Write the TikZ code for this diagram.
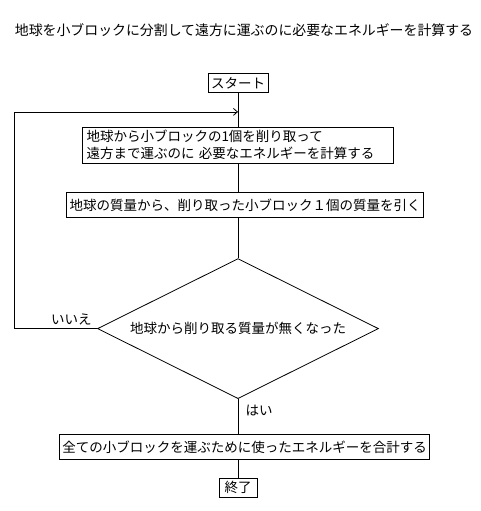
\documentclass[tikz,border=0pt]{standalone}
\usepackage{fontspec}
\setmainfont{Noto Sans CJK JP}
\usetikzlibrary{arrows.meta, positioning, shapes.geometric}

\begin{document}
\begin{tikzpicture}[
    x=1pt, y=1pt,
    font=\fontsize{13.5}{17}\selectfont,
    >={Straight Barb[length=4pt, width=7pt]},
    line width=0.8pt,
    box/.style={rectangle, draw, minimum height=25pt, inner xsep=3pt, inner ysep=3pt, align=left},
    term/.style={rectangle, draw, minimum height=19pt, inner xsep=3pt, inner ysep=1pt},
    decision/.style={diamond, draw, aspect=2, minimum width=281pt, minimum height=140pt, inner sep=0pt}
]
    \useasboundingbox (0,0) rectangle (481,-511);

    % Title
    \node[font=\fontsize{13.9}{17}\selectfont] (title) at (244,-30) {地球を小ブロックに分割して遠方に運ぶのに必要なエネルギーを計算する};

    % Flow
    \node[term] (start) at (238,-83) {スタート};
    \node[box, below=34pt of start, text width=303pt, inner xsep=4pt] (calc) {地球から小ブロックの1個を削り取って\\遠方まで運ぶのに 必要なエネルギーを計算する};
    \node[box, below=29pt of calc, xshift=7pt] (sub) {地球の質量から、削り取った小ブロック１個の質量を引く};
    \node[decision, below=40pt of sub, xshift=-7pt] (check) {地球から削り取る質量が無くなった};
    \node[box, below=35pt of check, xshift=6.5pt] (total) {全ての小ブロックを運ぶために使ったエネルギーを合計する};
    \node[term, below=18pt of total, xshift=-6.5pt, minimum width=38pt] (finish) {終了};

    \coordinate[above=15pt of calc.north] (merge);
    \coordinate (leftrail) at (14,0);

    % Connectors
    \draw (start) -- (calc);
    \draw (calc) -- (calc.south |- sub.north);
    \draw (sub.south -| check.north) -- (check.north);
    \draw (check.south) -- (check.south |- total.north)
        node[pos=0.34, right, xshift=4pt] {はい};
    \draw (total.south -| finish.north) -- (finish.north);

    % Loop back
    \draw[->] (check.west) -- (check.west -| leftrail)
        node[pos=0.31, above] {いいえ} |- (merge);

\end{tikzpicture}
\end{document}
